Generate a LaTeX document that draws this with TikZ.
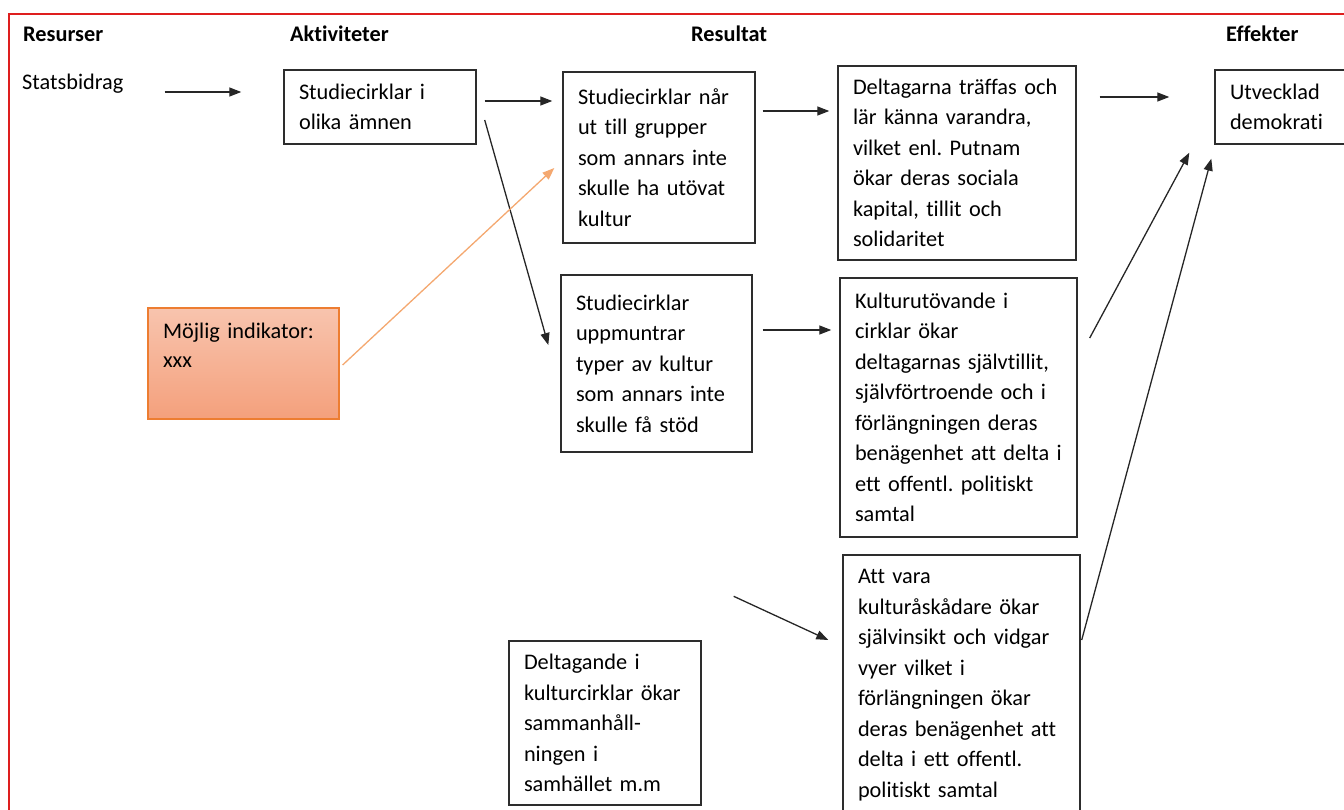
\documentclass[tikz,border=0pt]{standalone}
\usepackage{fontspec}
\setmainfont{Carlito}[Ligatures=NoCommon]
\usetikzlibrary{arrows.meta}
\usetikzlibrary{calc}
\frenchspacing

\definecolor{frame}{RGB}{222,30,30}
\definecolor{boxline}{RGB}{45,45,45}
\definecolor{indtop}{RGB}{248,196,174}
\definecolor{indbot}{RGB}{244,160,124}
\definecolor{indline}{RGB}{237,125,49}
\definecolor{indarrow}{RGB}{244,168,112}

\begin{document}
\begin{tikzpicture}[x=1pt,y=-1pt,
        font=\fontsize{22.3}{30.5}\selectfont,
        box/.style = {draw=boxline,line width=1.4pt,align=left,
            inner xsep=15pt,inner ysep=0pt,text width=#1-30pt},
        hdr/.style = {anchor=west,inner sep=0pt,font=\fontsize{22.3}{30.5}\selectfont\bfseries},
        unbox/.style = {anchor=west,inner sep=0pt},
        arr/.style = {-{Triangle[length=12pt,width=9pt]},line width=1.3pt,draw=black!85},
        indarr/.style = {-{Triangle[length=12pt,width=9pt]},line width=1.3pt,draw=indarrow}]
    \useasboundingbox (0,0) rectangle (1344,809);
    \draw[frame,line width=1.8pt] (9,815) -- (9,14) -- (1350,14);
    % headers
    \node[hdr] (hres) at (23,34) {Resurser};
    \node[hdr] (hakt) at (290,34) {Aktiviteter};
    \node[hdr] (hrest) at (691,34) {Resultat};
    \node[hdr] (heff) at (1226,34) {Effekter};
    \node[unbox] (stat) at (22,84) {Statsbidrag};
    % boxes
    \node[box=192pt,minimum width=192pt,minimum height=74pt] (a1) at (380,107)
        {Studiecirklar i\\olika ämnen};
    \node[box=192pt,minimum width=192pt,minimum height=171pt] (r1) at (659,157.5)
        {Studiecirklar når\\ut till grupper\\som annars inte\\skulle ha utövat\\kultur};
    \node[box=238pt,minimum width=238pt,minimum height=194pt] (r2) at (957,163)
        {Deltagarna träffas och\\lär känna varandra,\\vilket enl. Putnam\\ökar deras sociala\\kapital, tillit och\\solidaritet};
    \node[box=146pt,minimum width=146pt,minimum height=74pt] (e1) at (1288,107)
        {Utvecklad\\demokrati};
    \node[box=191pt,minimum width=191pt,minimum height=177pt] (r3) at (656.5,363.5)
        {Studiecirklar\\uppmuntrar\\typer av kultur\\som annars inte\\skulle få stöd};
    \node[box=237pt,minimum width=237pt,minimum height=259pt] (r4) at (958.5,407.5)
        {Kulturutövande i\\cirklar ökar\\deltagarnas självtillit,\\självförtroende och i\\förlängningen deras\\benägenhet att delta i\\ett offentl. politiskt\\samtal};
    \node[box=237pt,minimum width=237pt,minimum height=260pt] (r5) at (961.5,685)
        {Att vara\\kulturåskådare ökar\\självinsikt och vidgar\\vyer vilket i\\förlängningen ökar\\deras benägenhet att\\delta i ett offentl.\\politiskt samtal};
    \node[box=192pt,minimum width=192pt,minimum height=164pt] (r6) at (605,723)
        {Deltagande i\\kulturcirklar ökar\\sammanhåll-\\ningen i\\samhället m.m};
    \node[box=191pt,minimum width=191pt,minimum height=111pt,draw=indline,line width=1.2pt,
        top color=indtop,bottom color=indbot] (ind) at (243.5,363.5)
        {Möjlig indikator:\\[-2pt]xxx\\[6pt]\mbox{}};
    % connectors
    \draw[arr] ($(stat.east)+(41,8)$) -- ($(a1.west)+(-42,-15)$);
    \draw[arr] ($(a1.east)+(8,-6)$) -- ($(r1.west)+(-10,-56.5)$);
    \draw[arr] ($(a1.east)+(8,13)$) -- ($(r3.west)+(-12,-18.5)$);
    \draw[arr] ($(r1.east)+(7,-46.5)$) -- ($(r2.west)+(-8,-52)$);
    \draw[arr] ($(r2.east)+(23,-66)$) -- ($(e1.west)+(-45,-10)$);
    \draw[arr] ($(r3.east)+(10,-33.5)$) -- ($(r4.west)+(-8,-77.5)$);
    \draw[arr] ($(r4.east)+(12,-69.5)$) -- ($(e1.south west)+(-25,8)$);
    \draw[arr] ($(r5.east)+(1,-45)$) -- ($(e1.south west)+(-3,14)$);
    \draw[arr] ($(r6.north east)+(32,-44)$) -- ($(r5.west)+(-14,-45)$);
    \draw[indarr] ($(ind.east)+(3,1.5)$) -- ($(r1.west)+(-8,10.5)$);
\end{tikzpicture}
\end{document}
